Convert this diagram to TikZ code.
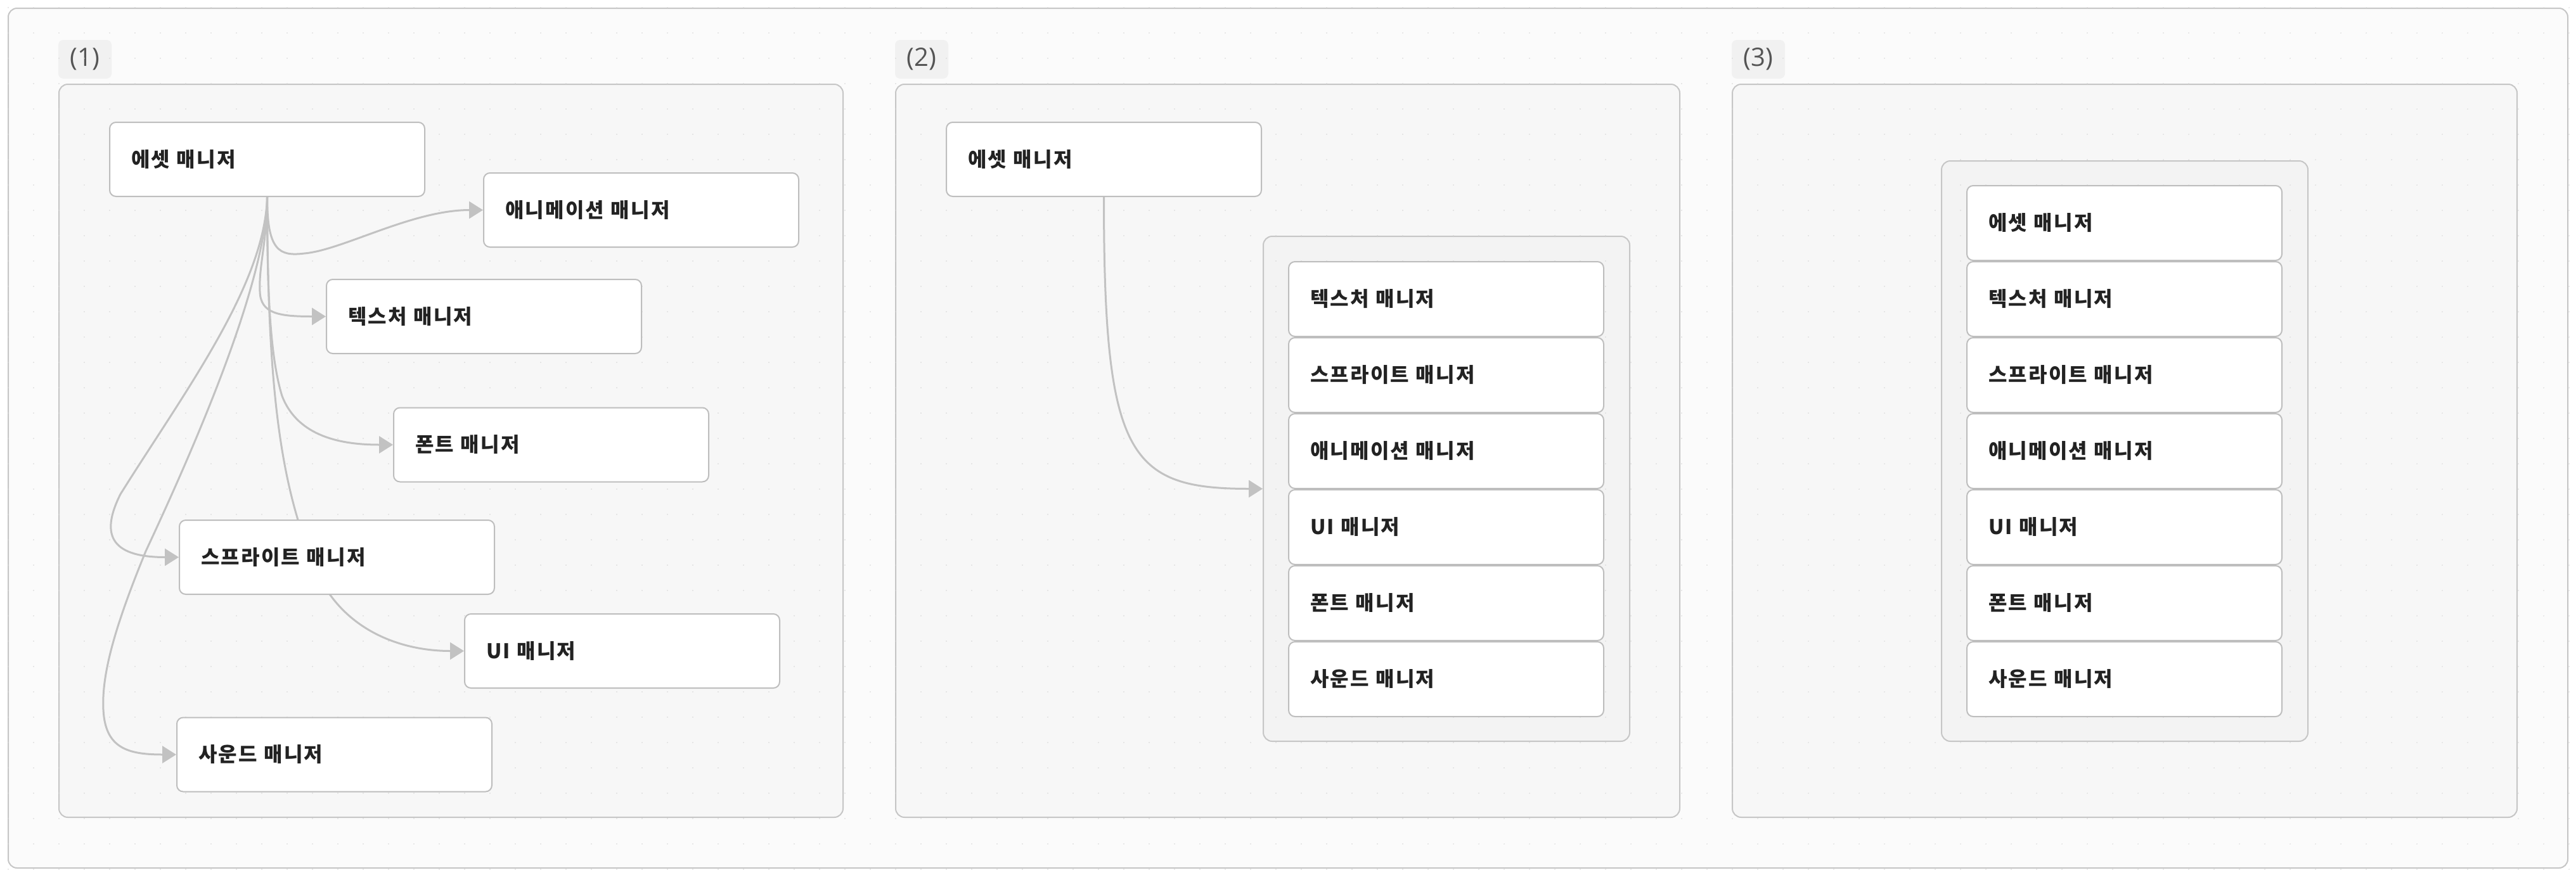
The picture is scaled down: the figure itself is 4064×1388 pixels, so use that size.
\documentclass[tikz,border=0pt]{standalone}
\usepackage{fontspec}
\newfontfamily\kr{Noto Sans CJK KR}[LetterSpace=7]
\newfontfamily\lblfont{Open Sans}
\usetikzlibrary{arrows.meta}
\definecolor{framec}{HTML}{C6C6C6}
\definecolor{outerfill}{HTML}{FBFBFB}
\definecolor{panelfill}{HTML}{F7F7F7}
\definecolor{grpfill}{HTML}{F3F3F3}
\definecolor{lblfill}{HTML}{F1F1F1}
\definecolor{nodeb}{HTML}{BEBEBE}
\definecolor{edgec}{HTML}{C2C2C2}
\definecolor{txt}{HTML}{222222}
\definecolor{lbltxt}{HTML}{555555}
\definecolor{dotc}{HTML}{D4D4D4}
\pgfdeclarelayer{bg}
\pgfdeclarelayer{edges}
\pgfsetlayers{bg,edges,main}
\tikzset{
  mgr/.style={draw=nodeb, line width=1pt, fill=white, rounded corners=5pt,
    minimum width=248.5pt, minimum height=58.5pt, text width=214.5pt,
    inner xsep=17pt, inner ysep=0pt, align=left,
    font=\kr\bfseries\fontsize{16}{19}\selectfont, text=txt},
  stk/.style={mgr, minimum height=59pt},
  panel/.style={draw=framec, line width=1pt, fill=panelfill, rounded corners=7pt},
  grp/.style={draw=framec, line width=1pt, fill=grpfill, rounded corners=7pt, inner sep=0pt},
  lbl/.style={fill=lblfill, rounded corners=4pt, minimum width=42pt, minimum height=30.5pt,
    inner sep=0pt, font=\lblfont\fontsize{20}{22}\selectfont, text=lbltxt},
  edge/.style={draw=edgec, line width=1.5pt, -{Triangle[length=11pt,width=13.5pt]}},
}
\begin{document}
\begin{tikzpicture}[x=0.5pt,y=-0.5pt]
\useasboundingbox (0,0) rectangle (4064,1388);
\begin{pgfonlayer}{bg}
  \fill[white] (0,0) rectangle (4064,1388);
  \draw[draw=framec, line width=1pt, fill=outerfill, rounded corners=7pt] (13,13) rectangle (4051,1370);
  \draw[panel] (93,133) rectangle (1330,1290);
  \draw[panel] (1413,133) rectangle (2650,1290);
  \draw[panel] (2733,133) rectangle (3971,1290);
  \node[lbl] (l1) at (134,93.5) {\raisebox{-1.5pt}{(1)}};
  \node[lbl] (l2) at (1454,93.5) {\raisebox{-1.5pt}{(2)}};
  \node[lbl] (l3) at (2774,93.5) {\raisebox{-1.5pt}{(3)}};
  \node[grp, minimum width=289pt, minimum height=398.5pt] (g2) at (2282,771.5) {};
  \node[grp, minimum width=289pt, minimum height=458pt] (g3) at (3352,712) {};
  \foreach \i in {0,...,101}{
    \foreach \j in {0,...,34}{
      \fill[dotc] (13+40*\i,12+40*\j) circle[radius=0.4pt];
    }
  }
\end{pgfonlayer}

% panel 1 nodes
\node[mgr] (a1)   at (421.5,251.5)  {에셋 매니저};
\node[mgr] (anim) at (1011.5,331.5) {애니메이션 매니저};
\node[mgr] (tex)  at (763.5,499.5)  {텍스처 매니저};
\node[mgr] (fnt)  at (869.5,702)    {폰트 매니저};
\node[mgr] (spr)  at (531.5,879.5)  {스프라이트 매니저};
\node[mgr] (ui)   at (981.5,1027.5) {UI 매니저};
\node[mgr] (snd)  at (527.5,1191)   {사운드 매니저};

% panel 2 nodes
\node[mgr] (a2) at (1741.5,251.5) {에셋 매니저};
\node[stk] (b1) at (2281.5,472)  {텍스처 매니저};
\node[stk] (b2) at (2281.5,592)  {스프라이트 매니저};
\node[stk] (b3) at (2281.5,712)  {애니메이션 매니저};
\node[stk] (b4) at (2281.5,832)  {UI 매니저};
\node[stk] (b5) at (2281.5,952)  {폰트 매니저};
\node[stk] (b6) at (2281.5,1072) {사운드 매니저};

% panel 3 nodes
\node[stk] (c0) at (3351.5,352)  {에셋 매니저};
\node[stk] (c1) at (3351.5,472)  {텍스처 매니저};
\node[stk] (c2) at (3351.5,592)  {스프라이트 매니저};
\node[stk] (c3) at (3351.5,712)  {애니메이션 매니저};
\node[stk] (c4) at (3351.5,832)  {UI 매니저};
\node[stk] (c5) at (3351.5,952)  {폰트 매니저};
\node[stk] (c6) at (3351.5,1072) {사운드 매니저};

\begin{pgfonlayer}{edges}
  \draw[edge] (a1.south) .. controls (421.5,395) and (440,405) .. (480,400)
                         .. controls (540,395) and (650,331.5) .. (anim.west);
  \draw[edge] (a1.south) .. controls (421.5,380) and (408,420) .. (410,460)
                         .. controls (411,495) and (440,499.5) .. (tex.west);
  \draw[edge] (a1.south) .. controls (421.5,450) and (425,560) .. (445,625)
                         .. controls (470,690) and (540,702) .. (fnt.west);
  \draw[edge] (a1.south) .. controls (418,450) and (290,620) .. (190,780)
                         .. controls (160,840) and (170,879.5) .. (spr.west);
  \draw[edge] (a1.south) .. controls (422,600) and (440,760) .. (495,890)
                         .. controls (530,985) and (620,1027.5) .. (ui.west);
  \draw[edge] (a1.south) .. controls (420,450) and (300,720) .. (230,870)
                         .. controls (185,980) and (160,1060) .. (163,1120)
                         .. controls (166,1180) and (200,1191) .. (snd.west);
  \draw[edge] (a2.south) .. controls (1741.5,720) and (1780,771.5) .. (g2.west);
\end{pgfonlayer}
\end{tikzpicture}
\end{document}
